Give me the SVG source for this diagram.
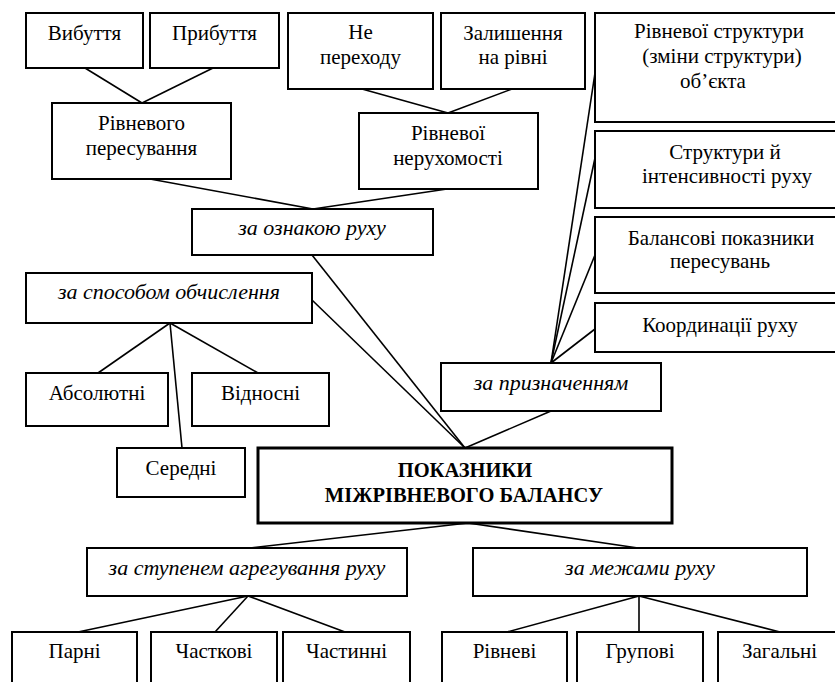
<svg xmlns="http://www.w3.org/2000/svg" width="835" height="682" viewBox="0 0 835 682">
<style>
.box{fill:#fff;stroke:#000;stroke-width:2}
.main{fill:#fff;stroke:#000;stroke-width:3}
.t{font-family:"Liberation Serif","Times New Roman",serif;font-size:21px;fill:#000;text-anchor:middle}
.i{font-style:italic;font-size:22px}
.b{font-weight:bold;font-size:20.5px}
.c line{stroke:#000;stroke-width:1.6}
</style>
<rect width="835" height="682" fill="#fff"/>
<g class="c" id="connectors">
<line x1="85" y1="68" x2="142" y2="103"/>
<line x1="213" y1="68" x2="142" y2="103"/>
<line x1="362" y1="89" x2="448" y2="113"/>
<line x1="512" y1="89" x2="448" y2="113"/>
<line x1="150" y1="179" x2="313" y2="209"/>
<line x1="447" y1="189" x2="313" y2="209"/>
<line x1="312" y1="255" x2="465" y2="448"/>
<line x1="312" y1="300" x2="465" y2="448"/>
<line x1="170" y1="323" x2="98" y2="373"/>
<line x1="170" y1="323" x2="258" y2="373"/>
<line x1="170" y1="323" x2="182" y2="448"/>
<line x1="551" y1="363" x2="595" y2="73"/>
<line x1="551" y1="363" x2="595" y2="158"/>
<line x1="551" y1="363" x2="595" y2="255"/>
<line x1="551" y1="363" x2="595" y2="329"/>
<line x1="551" y1="411" x2="465" y2="448"/>
<line x1="468" y1="523" x2="250" y2="548"/>
<line x1="468" y1="523" x2="638" y2="548"/>
<line x1="248" y1="596" x2="78" y2="632"/>
<line x1="248" y1="596" x2="215" y2="632"/>
<line x1="248" y1="596" x2="345" y2="632"/>
<line x1="639" y1="596" x2="507" y2="632"/>
<line x1="639" y1="596" x2="639" y2="632"/>
<line x1="639" y1="596" x2="780" y2="632"/>
</g>
<g id="vybuttya"><rect class="box" x="26" y="13" width="117" height="55"/><text class="t" x="84.5" y="40">Вибуття</text></g>
<g id="prybuttya"><rect class="box" x="150" y="13" width="129" height="55"/><text class="t" x="214.5" y="40">Прибуття</text></g>
<g id="ne-perekhodu"><rect class="box" x="288" y="13" width="145" height="76"/><text class="t" x="360.5" y="39">Не</text><text class="t" x="360.5" y="64">переходу</text></g>
<g id="zalyshennya"><rect class="box" x="441" y="13" width="144" height="76"/><text class="t" x="513" y="40">Залишення</text><text class="t" x="513" y="64">на рівні</text></g>
<g id="rivnevoi-struktury"><rect class="box" x="595" y="13" width="250" height="109"/><text class="t" x="719" y="38">Рівневої структури</text><text class="t" x="722" y="63">(зміни структури)</text><text class="t" x="713" y="88">об’єкта</text></g>
<g id="struktury-intensyvnosti"><rect class="box" x="595" y="131" width="250" height="77"/><text class="t" x="725" y="159">Структури й</text><text class="t" x="727" y="183">інтенсивності руху</text></g>
<g id="balansovi"><rect class="box" x="595" y="217" width="250" height="76"/><text class="t" x="721" y="245">Балансові показники</text><text class="t" x="720" y="268">пересувань</text></g>
<g id="koordynatsii"><rect class="box" x="595" y="303" width="250" height="49"/><text class="t" x="720" y="332">Координації руху</text></g>
<g id="rivnevoho-peresuvannya"><rect class="box" x="52" y="103" width="179" height="76"/><text class="t" x="141.5" y="130">Рівневого</text><text class="t" x="141.5" y="155">пересування</text></g>
<g id="rivnevoi-nerukhomosti"><rect class="box" x="359" y="113" width="179" height="76"/><text class="t" x="448" y="140">Рівневої</text><text class="t" x="448" y="165">нерухомості</text></g>
<g id="za-oznakoyu"><rect class="box" x="192" y="209" width="241" height="46"/><text class="t i" x="312" y="235">за ознакою руху</text></g>
<g id="za-sposobom"><rect class="box" x="26" y="273" width="286" height="50"/><text class="t i" x="169" y="299">за способом обчислення</text></g>
<g id="absolyutni"><rect class="box" x="26" y="373" width="142" height="53"/><text class="t" x="97" y="400">Абсолютні</text></g>
<g id="vidnosni"><rect class="box" x="192" y="373" width="137" height="53"/><text class="t" x="260.5" y="400">Відносні</text></g>
<g id="seredni"><rect class="box" x="117" y="448" width="128" height="49"/><text class="t" x="181" y="475">Середні</text></g>
<g id="pokaznyky"><rect class="main" x="258" y="448" width="414" height="75"/><text class="t b" x="465" y="477">ПОКАЗНИКИ</text><text class="t b" x="464" y="502">МІЖРІВНЕВОГО БАЛАНСУ</text></g>
<g id="za-pryznachennyam"><rect class="box" x="441" y="363" width="220" height="48"/><text class="t i" x="551" y="390">за призначенням</text></g>
<g id="za-stupenem"><rect class="box" x="87" y="548" width="320" height="48"/><text class="t i" x="247" y="575">за ступенем агрегування руху</text></g>
<g id="za-mezhamy"><rect class="box" x="473" y="548" width="334" height="48"/><text class="t i" x="640" y="575">за межами руху</text></g>
<g id="parni"><rect class="box" x="12" y="632" width="125" height="60"/><text class="t" x="74.5" y="658">Парні</text></g>
<g id="chastkovi"><rect class="box" x="151" y="632" width="126" height="60"/><text class="t" x="214" y="658">Часткові</text></g>
<g id="chastynni"><rect class="box" x="283" y="632" width="127" height="60"/><text class="t" x="346.5" y="658">Частинні</text></g>
<g id="rivnevi"><rect class="box" x="442" y="632" width="125" height="60"/><text class="t" x="504.5" y="658">Рівневі</text></g>
<g id="grupovi"><rect class="box" x="577" y="632" width="126" height="60"/><text class="t" x="640" y="658">Групові</text></g>
<g id="zahalni"><rect class="box" x="718" y="632" width="130" height="60"/><text class="t" x="779.5" y="658">Загальні</text></g>
</svg>
